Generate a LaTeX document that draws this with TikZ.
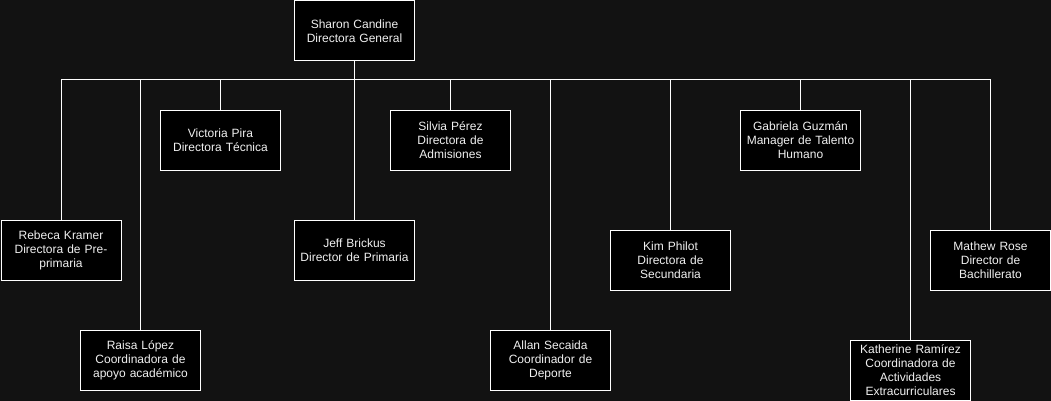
\documentclass[tikz,border=0pt]{standalone}
\usepackage{fontspec}
\setmainfont{Liberation Sans}
\definecolor{bg}{RGB}{18,18,18}
\definecolor{txt}{RGB}{240,240,240}
\begin{document}
\begin{tikzpicture}[x=1pt,y=-1pt,
  box/.style={draw=white,fill=black,line width=1pt,minimum width=120pt,minimum height=60pt,
    inner sep=2pt,text width=114pt,align=center,text=txt,font=\fontsize{12}{14}\selectfont,anchor=north west},
  conn/.style={draw=white,line width=1pt}]
\fill[bg] (0,0) rectangle (1051,401);
\useasboundingbox (0,0) rectangle (1051,401);
\node[box] (sharon) at (294,0.5) {Sharon Candine\\Directora General};
\node[box] (rebeca) at (0.5,220) {Rebeca Kramer\\Directora de Pre-\\primaria};
\node[box] (raisa) at (80,330) {Raisa López\\Coordinadora de\\apoyo académico};
\node[box] (victoria) at (160,110) {Victoria Pira\\Directora Técnica};
\node[box] (jeff) at (294,220) {Jeff Brickus\\Director de Primaria};
\node[box] (silvia) at (390,110) {Silvia Pérez\\Directora de\\Admisiones};
\node[box] (allan) at (490,330) {Allan Secaida\\Coordinador de\\Deporte};
\node[box] (kim) at (610,230) {Kim Philot\\Directora de\\Secundaria};
\node[box] (gabriela) at (740,110) {Gabriela Guzmán\\Manager de Talento\\Humano};
\node[box] (katherine) at (850,340) {Katherine Ramírez\\Coordinadora de\\Actividades\\Extracurriculares};
\node[box] (mathew) at (930,230) {Mathew Rose\\Director de\\Bachillerato};
\coordinate (bus) at ([yshift=80pt]sharon.north);
\path (sharon.south |- 0,80) coordinate (bus);
\draw[conn] (sharon.south) -- (bus);
\draw[conn] (rebeca.north |- bus) -- (mathew.north |- bus);
\foreach \n in {rebeca,raisa,victoria,jeff,silvia,allan,kim,gabriela,katherine,mathew}
  \draw[conn] (\n.north |- bus) -- (\n.north);
\end{tikzpicture}
\end{document}
